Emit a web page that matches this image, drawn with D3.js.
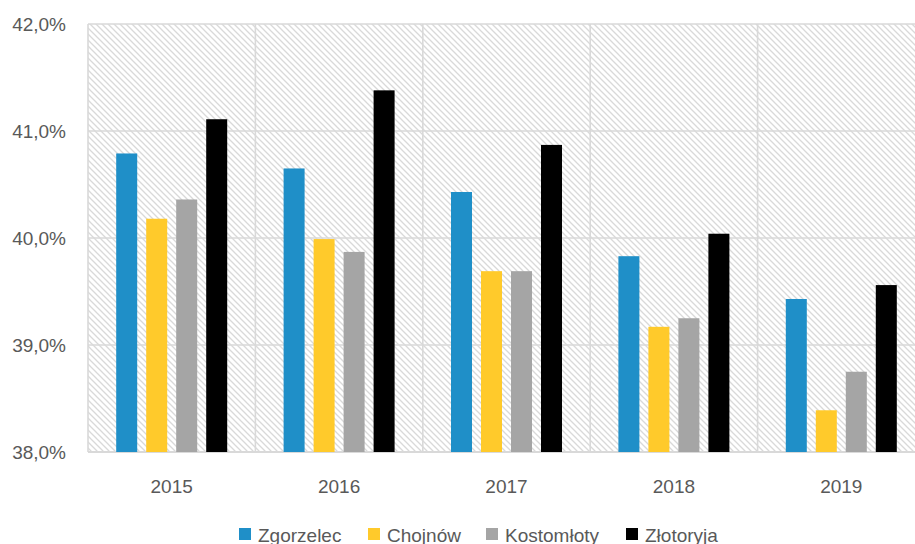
<!DOCTYPE html>
<html><head><meta charset="utf-8">
<script src="https://cdn.jsdelivr.net/npm/d3@7"></script>
<style>html,body{margin:0;padding:0;background:#fff;}svg{display:block;font-family:"Liberation Sans",Arial,sans-serif;}</style>
</head><body>
<svg id="c" width="915" height="544"></svg>
<script>
const years = ["2015","2016","2017","2018","2019"];
const seriesNames = ["Zgorzelec","Chojnów","Kostomłoty","Złotoryja"];
const zgorzelec  = [40.79, 40.65, 40.43, 39.83, 39.43];
const chojnow    = [40.18, 39.99, 39.69, 39.17, 38.39];
const kostomloty = [40.36, 39.87, 39.69, 39.25, 38.75];
const zlotoryja  = [41.11, 41.38, 40.87, 40.04, 39.56];
const yTicks = [38, 39, 40, 41, 42];
const colors = ["#1F8FC8", "#FFCA2B", "#A5A5A5", "#000000"];

const seriesValues = [zgorzelec, chojnow, kostomloty, zlotoryja];
const svg = d3.select("#c");
const L = 88, R = 925, T = 24, B = 452;

const defs = svg.append("defs");
const pat = defs.append("pattern").attr("id","hatch").attr("patternUnits","userSpaceOnUse")
  .attr("width",6).attr("height",6);
pat.append("rect").attr("width",6).attr("height",6).attr("fill","#fff");
pat.append("path").attr("d","M-1,-1 L7,7 M-1,5 L1,7 M5,-1 L7,1")
  .attr("stroke","#d9d9d9").attr("stroke-width",1.3);

const x0 = d3.scaleBand().domain(years).range([L, R]).paddingInner(0).paddingOuter(0);
const x1 = d3.scaleBand().domain(seriesNames).range([-60, 60]).paddingInner(0.3).paddingOuter(0.15);
const y = d3.scaleLinear().domain([38, 42]).range([B, T]);

svg.append("rect").attr("x",L).attr("y",T).attr("width",R-L).attr("height",B-T).attr("fill","url(#hatch)");

// horizontal gridlines
svg.append("g").selectAll("line").data(yTicks).join("line")
  .attr("x1",L).attr("x2",R).attr("y1",d=>y(d)).attr("y2",d=>y(d))
  .attr("stroke","#d9d9d9").attr("stroke-width",d=>d===38?2:1.6);
// vertical gridlines
const bounds = years.map(d=>x0(d)).concat([R]);
svg.append("g").selectAll("line").data(bounds).join("line")
  .attr("x1",d=>d).attr("x2",d=>d).attr("y1",T).attr("y2",B)
  .attr("stroke","#d9d9d9").attr("stroke-width",1.6);

// bars
const g = svg.append("g");
seriesValues.forEach((vals, si) => {
  g.append("g").selectAll("rect").data(vals).join("rect")
    .attr("x",(d,i)=>x0(years[i]) + x0.bandwidth()/2 + x1(seriesNames[si]))
    .attr("width",x1.bandwidth())
    .attr("y",d=>y(d)).attr("height",d=>B - y(d))
    .attr("fill",colors[si]);
});

// y axis labels
const fmt = d => d.toFixed(1).replace(".", ",") + "%";
svg.append("g").selectAll("text").data(yTicks).join("text")
  .attr("x",66).attr("y",d=>y(d)).attr("dy","0.35em").attr("text-anchor","end")
  .attr("font-size",19).attr("fill","#595959").text(fmt);

// x axis labels
svg.append("g").selectAll("text").data(years).join("text")
  .attr("x",d=>x0(d)+x0.bandwidth()/2).attr("y",493).attr("text-anchor","middle")
  .attr("font-size",19).attr("fill","#595959").text(d=>d);

// legend
const legX = [239, 368, 486, 626];
const leg = svg.append("g");
seriesNames.forEach((n,i)=>{
  leg.append("rect").attr("x",legX[i]).attr("y",528).attr("width",12).attr("height",12).attr("fill",colors[i]);
  leg.append("text").attr("x",legX[i]+19).attr("y",542).attr("font-size",19).attr("fill","#595959").text(n);
});
</script>
</body></html>
